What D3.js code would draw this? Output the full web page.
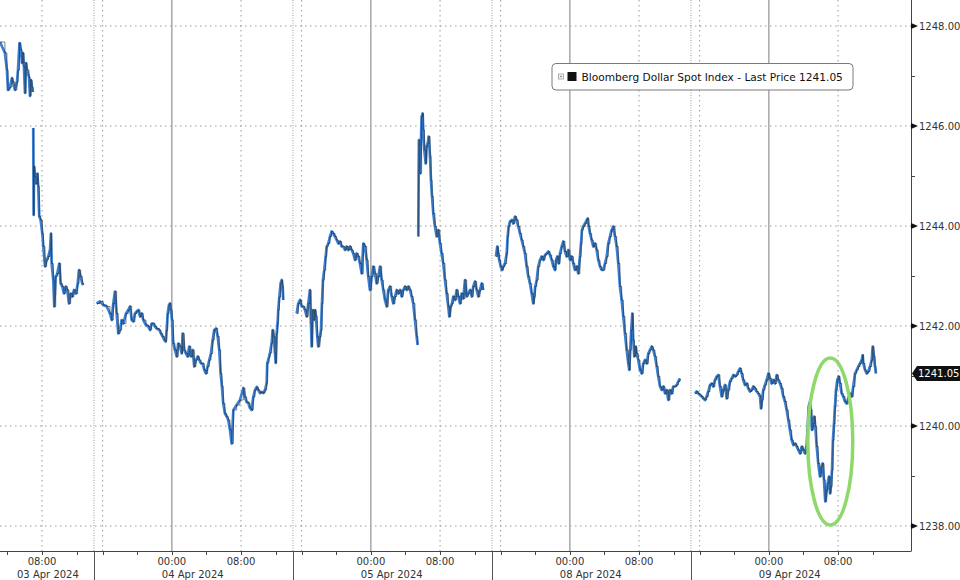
<!DOCTYPE html>
<html>
<head>
<meta charset="utf-8">
<script src="https://cdn.jsdelivr.net/npm/d3@7"></script>
<style>
  body { margin: 0; background: #fff; }
  svg { display: block; font-family: "DejaVu Sans", Verdana, sans-serif; }
</style>
</head>
<body>
<svg id="chart" width="960" height="580"></svg>
<script>
// sessions open 15:00 the day before and run 23 hours
// every point is [hours since session open, index level]
var sessionDays = ["03 Apr 2024", "04 Apr 2024", "05 Apr 2024", "08 Apr 2024", "09 Apr 2024"]
var sessionHours = 23
var openClock = 15
var priceTicks = [1238, 1240, 1242, 1244, 1246, 1248]
var priceMinor = [1239, 1241, 1243, 1245, 1247]
var lastPrice = 1241.05
var seriesName = "Bloomberg Dollar Spot Index - Last Price"
var ringHours = [13.5, 18.7]      // 09 Apr session, circled dip
var ringPrices = [1238.02, 1241.36]

var apr03a = [[12.14,1247.68],[12.71,1247.46],[12.94,1247.12],[13.06,1246.72],[13.29,1246.78],[13.52,1246.96],[13.64,1246.88],[13.87,1246.72],[14.10,1246.88],[14.22,1247.12],[14.39,1247.66],[14.56,1247.52],[14.68,1247.26],[14.79,1247.46],[14.91,1247.18],[15.03,1246.66],[15.14,1247.26],[15.26,1247.12],[15.49,1246.98],[15.61,1246.60],[15.72,1246.92],[15.84,1246.78],[15.95,1246.68]]

var apr03b = [[15.98,1245.96],[16.03,1244.22],[16.07,1245.19],[16.18,1244.99],[16.30,1244.85],[16.45,1245.05],[16.56,1244.79],[16.68,1244.19],[16.84,1244.12],[17.03,1243.85],[17.15,1243.59],[17.34,1243.19],[17.53,1243.32],[17.72,1243.39],[17.92,1243.52],[18.03,1243.85],[18.11,1243.25],[18.30,1242.92],[18.41,1242.39],[18.58,1242.99],[18.76,1243.05],[18.99,1243.25],[19.15,1242.85],[19.34,1242.79],[19.53,1242.65],[19.73,1242.79],[19.92,1242.72],[20.11,1242.45],[20.31,1242.65],[20.50,1242.59],[20.69,1242.72],[20.92,1242.65],[21.12,1242.85],[21.27,1243.12],[21.46,1242.99],[21.65,1242.85],[21.77,1242.82]]

var apr04 = [[0.31,1242.45],[0.69,1242.49],[1.08,1242.42],[1.47,1242.39],[1.85,1242.25],[2.05,1242.12],[2.23,1242.45],[2.43,1242.69],[2.62,1242.25],[2.81,1241.85],[3.01,1241.92],[3.20,1242.12],[3.39,1242.05],[3.70,1242.25],[3.96,1242.32],[4.16,1242.39],[4.36,1242.12],[4.54,1242.09],[4.74,1242.25],[4.94,1242.29],[5.12,1242.32],[5.32,1242.19],[5.51,1242.25],[5.70,1242.12],[6.01,1242.02],[6.28,1241.99],[6.47,1241.92],[6.67,1242.05],[6.85,1242.05],[7.05,1241.99],[7.25,1241.95],[7.55,1241.92],[7.74,1241.85],[7.94,1241.79],[8.13,1241.72],[8.29,1241.69],[8.40,1241.92],[8.52,1242.25],[8.67,1242.42],[8.78,1242.45],[8.90,1242.32],[9.02,1242.12],[9.17,1241.65],[9.36,1241.52],[9.56,1241.39],[9.74,1241.65],[9.94,1241.59],[10.14,1241.45],[10.25,1241.85],[10.44,1241.52],[10.63,1241.45],[10.83,1241.39],[11.01,1241.59],[11.21,1241.39],[11.41,1241.52],[11.59,1241.19],[11.79,1241.32],[11.99,1241.39],[12.17,1241.32],[12.37,1241.25],[12.56,1241.25],[12.75,1241.12],[12.94,1241.05],[13.14,1241.19],[13.33,1241.32],[13.52,1241.45],[13.72,1241.72],[13.90,1241.92],[14.10,1241.95],[14.30,1241.79],[14.48,1241.52],[14.64,1241.05],[14.79,1240.79],[14.94,1240.45],[15.14,1240.25],[15.34,1240.19],[15.52,1240.12],[15.72,1239.92],[15.92,1239.65],[16.11,1240.32],[16.49,1240.42],[16.87,1240.52],[17.26,1240.76],[17.45,1240.58],[17.65,1240.48],[17.84,1240.46],[18.03,1240.36],[18.23,1240.32],[18.41,1240.58],[18.61,1240.72],[18.81,1240.78],[18.99,1240.72],[19.19,1240.66],[19.38,1240.68],[19.57,1240.66],[19.77,1240.72],[19.96,1240.86],[20.03,1241.26],[20.23,1241.38],[20.34,1241.46],[20.54,1241.66],[20.65,1241.92],[20.80,1241.78],[20.92,1241.46],[21.00,1241.26],[21.12,1241.86],[21.23,1242.06],[21.30,1242.32],[21.42,1242.58],[21.58,1242.86],[21.70,1242.92],[21.81,1242.78],[21.88,1242.52]]

var apr05a = [[0.43,1242.25],[0.61,1242.45],[0.81,1242.52],[1.01,1242.39],[1.19,1242.39],[1.39,1242.32],[1.58,1242.19],[1.77,1242.45],[1.96,1242.72],[2.08,1242.05],[2.16,1241.59],[2.28,1242.32],[2.43,1242.12],[2.54,1242.32],[2.66,1242.19],[2.81,1241.79],[2.92,1241.59],[3.12,1241.79],[3.24,1241.92],[3.35,1242.45],[3.47,1242.92],[3.62,1243.12],[3.78,1243.39],[3.90,1243.59],[4.08,1243.65],[4.28,1243.79],[4.47,1243.89],[4.66,1243.85],[4.85,1243.79],[5.05,1243.72],[5.24,1243.65],[5.43,1243.69],[5.63,1243.59],[5.81,1243.59],[6.01,1243.52],[6.21,1243.59],[6.39,1243.52],[6.59,1243.59],[6.78,1243.52],[6.97,1243.45],[7.17,1243.32],[7.36,1243.45],[7.55,1243.39],[7.74,1243.25],[7.94,1243.05],[8.13,1243.65],[8.32,1243.59],[8.52,1243.32],[8.70,1242.99],[8.90,1242.72],[9.10,1242.99],[9.28,1243.19],[9.48,1243.05],[9.67,1242.85],[9.86,1242.99],[10.06,1243.19],[10.25,1242.92],[10.44,1242.72],[10.63,1242.52],[10.83,1242.39],[11.01,1242.72],[11.21,1242.79],[11.41,1242.59],[11.59,1242.45],[11.79,1242.59],[11.99,1242.72],[12.17,1242.65],[12.37,1242.72],[12.56,1242.59],[12.75,1242.72],[12.94,1242.79],[13.14,1242.72],[13.33,1242.79],[13.52,1242.72],[13.72,1242.59],[13.90,1242.45],[14.10,1242.12],[14.30,1241.79],[14.41,1241.62]]

var apr05b = [[14.48,1243.79],[14.53,1245.12],[14.56,1245.72],[14.68,1245.05],[14.87,1246.19],[14.99,1246.25],[15.06,1245.92],[15.18,1245.52],[15.34,1245.25],[15.45,1245.59],[15.57,1245.65],[15.69,1245.79],[15.84,1245.39],[15.95,1244.92],[16.07,1244.59],[16.22,1244.25],[16.41,1243.99],[16.61,1243.79],[16.79,1243.92],[16.99,1243.65],[17.18,1243.45],[17.37,1243.25],[17.57,1242.92],[17.76,1242.65],[17.95,1242.39],[18.07,1242.19],[18.23,1242.39],[18.38,1242.45],[18.53,1242.59],[18.73,1242.52],[18.92,1242.72],[19.11,1242.59],[19.30,1242.45],[19.50,1242.65],[19.69,1242.55],[19.88,1242.92],[20.08,1242.59],[20.26,1242.65],[20.46,1242.72],[20.66,1242.59],[20.84,1242.79],[21.04,1242.89],[21.23,1242.72],[21.42,1242.59],[21.61,1242.72],[21.81,1242.85],[22.00,1242.72]]

var apr08 = [[0.46,1243.39],[0.61,1243.59],[0.73,1243.45],[0.84,1243.32],[1.01,1243.19],[1.16,1243.12],[1.31,1243.19],[1.50,1243.25],[1.70,1243.45],[1.81,1243.79],[1.93,1243.99],[2.08,1244.09],[2.28,1244.12],[2.46,1244.05],[2.66,1244.19],[2.85,1244.12],[3.04,1243.99],[3.24,1243.85],[3.43,1243.72],[3.62,1243.59],[3.81,1243.45],[4.01,1243.19],[4.20,1242.99],[4.39,1242.85],[4.59,1242.65],[4.77,1242.45],[4.89,1242.59],[5.00,1242.79],[5.17,1242.92],[5.35,1243.19],[5.55,1243.32],[5.74,1243.39],[5.93,1243.32],[6.13,1243.42],[6.32,1243.45],[6.51,1243.49],[6.70,1243.42],[6.90,1243.32],[7.09,1243.19],[7.28,1243.12],[7.40,1243.32],[7.55,1243.39],[7.71,1243.25],[7.86,1243.45],[8.06,1243.59],[8.24,1243.69],[8.44,1243.49],[8.63,1243.39],[8.82,1243.52],[9.02,1243.32],[9.21,1243.39],[9.40,1243.25],[9.59,1243.12],[9.79,1243.19],[9.97,1243.05],[10.17,1243.39],[10.29,1243.65],[10.40,1243.92],[10.55,1243.99],[10.75,1244.05],[10.95,1244.12],[11.06,1244.15],[11.18,1243.99],[11.33,1243.85],[11.52,1243.72],[11.71,1243.59],[11.90,1243.65],[12.10,1243.52],[12.29,1243.32],[12.48,1243.19],[12.68,1243.12],[12.86,1243.12],[13.06,1243.25],[13.26,1243.39],[13.44,1243.65],[13.64,1243.79],[13.83,1243.92],[14.02,1243.99],[14.22,1243.79],[14.41,1243.59],[14.60,1243.25],[14.79,1242.79],[14.99,1242.52],[15.18,1242.19],[15.37,1241.85],[15.57,1241.52],[15.76,1241.25],[15.87,1241.12],[15.98,1241.52],[16.10,1241.92],[16.22,1242.25],[16.33,1241.72],[16.45,1241.39],[16.61,1241.59],[16.72,1241.45],[16.91,1241.32],[17.11,1241.12],[17.30,1241.05],[17.49,1241.25],[17.68,1241.32],[17.88,1241.25],[18.07,1241.45],[18.26,1241.52],[18.46,1241.59],[18.64,1241.52],[18.84,1241.39],[19.04,1241.19],[19.22,1240.99],[19.42,1240.79],[19.61,1240.72],[19.80,1240.79],[20.00,1240.65],[20.19,1240.72],[20.38,1240.52],[20.57,1240.72],[20.77,1240.65],[20.95,1240.79],[21.15,1240.79],[21.35,1240.82],[21.53,1240.89],[21.73,1240.95]]

var apr09 = [[0.46,1240.65],[0.66,1240.69],[0.84,1240.65],[1.04,1240.62],[1.24,1240.59],[1.42,1240.55],[1.62,1240.52],[1.81,1240.59],[2.00,1240.69],[2.20,1240.82],[2.39,1240.85],[2.58,1240.79],[2.77,1240.92],[2.97,1240.99],[3.16,1241.02],[3.35,1240.79],[3.55,1240.59],[3.73,1240.72],[3.93,1240.82],[4.13,1240.55],[4.31,1240.72],[4.51,1240.89],[4.70,1240.95],[4.89,1241.02],[5.09,1240.99],[5.28,1241.02],[5.47,1241.09],[5.66,1241.15],[5.86,1241.05],[6.04,1240.92],[6.24,1240.82],[6.44,1240.85],[6.62,1240.75],[6.82,1240.69],[7.02,1240.72],[7.20,1240.79],[7.40,1240.75],[7.59,1240.69],[7.78,1240.65],[7.98,1240.59],[8.09,1240.35],[8.21,1240.52],[8.36,1240.72],[8.55,1240.82],[8.75,1240.92],[8.94,1241.05],[9.13,1240.95],[9.33,1240.85],[9.51,1240.92],[9.71,1240.85],[9.91,1241.02],[10.09,1240.92],[10.29,1240.85],[10.49,1240.75],[10.67,1240.59],[10.86,1240.49],[11.06,1240.32],[11.25,1240.12],[11.44,1239.92],[11.64,1239.72],[11.83,1239.62],[12.02,1239.65],[12.22,1239.59],[12.40,1239.52],[12.60,1239.45],[12.80,1239.59],[12.98,1239.52],[13.18,1239.45],[13.37,1239.62],[13.49,1239.99],[13.60,1240.39],[13.75,1240.49],[13.87,1240.32],[13.98,1239.92],[14.13,1240.05],[14.25,1240.19],[14.37,1239.99],[14.53,1239.59],[14.71,1239.25],[14.91,1238.99],[15.11,1239.19],[15.22,1239.25],[15.37,1238.92],[15.52,1238.49],[15.69,1238.72],[15.80,1238.85],[15.95,1238.99],[16.07,1238.65],[16.18,1238.79],[16.30,1239.12],[16.41,1239.72],[16.53,1240.05],[16.64,1240.39],[16.76,1240.72],[16.91,1240.92],[17.07,1240.99],[17.22,1240.85],[17.42,1240.65],[17.60,1240.59],[17.80,1240.49],[18.00,1240.45],[18.18,1240.55],[18.38,1240.65],[18.58,1240.59],[18.76,1240.79],[18.96,1241.05],[19.15,1241.12],[19.34,1241.19],[19.53,1241.25],[19.73,1241.32],[19.85,1241.42],[19.92,1241.25],[20.11,1241.12],[20.31,1241.05],[20.49,1241.09],[20.69,1241.19],[20.89,1241.32],[21.00,1241.59],[21.15,1241.39],[21.27,1241.19],[21.38,1241.05]]

var segments = [[0, apr03a], [0, apr03b], [1, apr04], [2, apr05a], [2, apr05b], [3, apr08], [4, apr09]]

var plotRight = 911, plotBottom = 551, H = 580
var svg = d3.select('#chart')

var x = d3.scaleLinear().domain([12.14, 117.43]).range([0, plotRight])
var y = d3.scaleLinear().domain([1238, 1248]).range([526, 26])

function tOf(k, h) { return k * sessionHours + h }
function clock(h) { return d3.format("02")((openClock + h) % 24) + ":00" }

// ticks every 4 hours inside each session
var tickHours = [1, 5, 9, 13, 17, 21]
var xTicks = []
sessionDays.forEach(function(day, k) {
    tickHours.forEach(function(h) {
        var px = x(tOf(k, h))
        if (px >= 0 && px <= plotRight) xTicks.push({k: k, h: h, px: px})
    })
})
var bounds = d3.range(1, sessionDays.length).map(function(k) { return x(tOf(k, 0)) })

var grid = svg.append('g')
grid.selectAll('.hgrid').data(priceTicks).enter().append('line')
    .attr('x1', 0).attr('x2', plotRight)
    .attr('y1', function(d) { return y(d) }).attr('y2', function(d) { return y(d) })
    .attr('stroke', '#9a9a9a').attr('stroke-width', 1).attr('stroke-dasharray', '1.5,3.5')
grid.selectAll('.vgrid').data(xTicks.filter(function(d) { return d.h !== 5 && d.h !== 13 && d.h !== 21 })).enter().append('line')
    .attr('x1', function(d) { return d.px }).attr('x2', function(d) { return d.px })
    .attr('y1', 0).attr('y2', plotBottom)
    .attr('stroke', function(d) { return d.h === 9 ? '#a8a8a8' : '#9a9a9a' })
    .attr('stroke-width', function(d) { return d.h === 9 ? 1.5 : 1 })
    .attr('stroke-dasharray', function(d) { return d.h === 9 ? null : '1.5,3.5' })
grid.selectAll('.sep').data(bounds).enter().append('line')
    .attr('x1', function(d) { return d }).attr('x2', function(d) { return d })
    .attr('y1', 0).attr('y2', plotBottom)
    .attr('stroke', '#9a9a9a').attr('stroke-width', 1).attr('stroke-dasharray', '1,1.5')

svg.append('clipPath').attr('id', 'plotclip').append('rect')
    .attr('x', 0).attr('y', 0).attr('width', plotRight).attr('height', plotBottom)

var line = d3.line()
    .x(function(d) { return x(d.t) })
    .y(function(d) { return y(d.v) })
var stepLine = d3.line()
    .curve(d3.curveStepAfter)
    .x(function(d) { return x(d.t) })
    .y(function(d) { return y(d.v) })

var series = svg.append('g').attr('clip-path', 'url(#plotclip)')
var segData = segments.map(function(s) {
    return s[1].map(function(p) { return {t: tOf(s[0], p[0]), v: p[1]} })
})
series.selectAll('.blue').data(segData).enter().append('path')
    .attr('d', line)
    .attr('fill', 'none').attr('stroke', '#3b80d2').attr('stroke-width', 2.7)
    .attr('stroke-linejoin', 'round')
series.selectAll('.dark').data(segData).enter().append('path')
    .attr('d', stepLine)
    .attr('fill', 'none').attr('stroke', '#1d1d1d').attr('stroke-width', 1)
    .attr('stroke-opacity', 0.55)

// circled dip
var rx0 = x(tOf(4, ringHours[0])), rx1 = x(tOf(4, ringHours[1]))
svg.append('ellipse')
    .attr('cx', (rx0 + rx1) / 2).attr('cy', (y(ringPrices[0]) + y(ringPrices[1])) / 2)
    .attr('rx', (rx1 - rx0) / 2).attr('ry', (y(ringPrices[0]) - y(ringPrices[1])) / 2)
    .attr('fill', 'none').attr('stroke', '#8fd86a').attr('stroke-width', 3.5)

// axes
var axis = svg.append('g').attr('fill', '#333').style('font-size', '10px')
axis.append('line').attr('x1', plotRight + 0.5).attr('x2', plotRight + 0.5)
    .attr('y1', 0).attr('y2', plotBottom).attr('stroke', '#444')
axis.append('line').attr('x1', 0).attr('x2', plotRight + 0.5)
    .attr('y1', plotBottom + 0.5).attr('y2', plotBottom + 0.5).attr('stroke', '#444')

axis.selectAll('.ymin').data(priceMinor).enter().append('line')
    .attr('x1', plotRight).attr('x2', plotRight + 4)
    .attr('y1', function(d) { return Math.round(y(d)) + 0.5 }).attr('y2', function(d) { return Math.round(y(d)) + 0.5 })
    .attr('stroke', '#444')
axis.selectAll('.ytri').data(priceTicks).enter().append('path')
    .attr('d', function(d) {
        var yy = y(d)
        return 'M' + plotRight + ',' + (yy - 3) + 'L' + (plotRight + 7) + ',' + yy + 'L' + plotRight + ',' + (yy + 3) + 'Z'
    })
    .attr('fill', '#111')
axis.selectAll('.ylab').data(priceTicks).enter().append('text')
    .attr('x', plotRight + 8).attr('y', function(d) { return y(d) }).attr('dy', '0.35em')
    .text(function(d) { return d3.format('.2f')(d) })

// last price tag
var ly = y(lastPrice)
axis.append('path')
    .attr('d', 'M' + (plotRight + 1) + ',' + ly + 'L' + (plotRight + 6) + ',' + (ly - 7.5) + 'L960,' + (ly - 7.5) + 'L960,' + (ly + 7.5) + 'L' + (plotRight + 6) + ',' + (ly + 7.5) + 'Z')
    .attr('fill', '#111')
axis.append('text').attr('x', plotRight + 7).attr('y', ly).attr('dy', '0.35em')
    .attr('fill', '#fff').text(d3.format('.2f')(lastPrice))

axis.selectAll('.xtick').data(xTicks).enter().append('line')
    .attr('x1', function(d) { return Math.round(d.px) + 0.5 }).attr('x2', function(d) { return Math.round(d.px) + 0.5 })
    .attr('y1', plotBottom).attr('y2', plotBottom + 4).attr('stroke', '#444')
axis.selectAll('.xlab').data(xTicks.filter(function(d) { return d.h === 9 || d.h === 17 })).enter().append('text')
    .attr('x', function(d) { return d.px }).attr('y', plotBottom + 14)
    .attr('text-anchor', 'middle')
    .text(function(d) { return clock(d.h) })
axis.selectAll('.dlab').data(sessionDays).enter().append('text')
    .attr('x', function(d, k) { return Math.max(17, x(tOf(k, 9)) - 10) }).attr('y', plotBottom + 27)
    .text(function(d) { return d })
axis.selectAll('.dsep').data(bounds).enter().append('line')
    .attr('x1', function(d) { return Math.round(d) + 0.5 }).attr('x2', function(d) { return Math.round(d) + 0.5 })
    .attr('y1', plotBottom).attr('y2', H).attr('stroke', '#555')

// legend
var lg = svg.append('g').attr('transform', 'translate(552,63.5)')
lg.append('rect').attr('width', 301).attr('height', 26.5).attr('rx', 4)
    .attr('fill', '#fff').attr('stroke', '#7a7a7a')
lg.append('rect').attr('x', 6.5).attr('y', 10.5).attr('width', 5).attr('height', 5)
    .attr('fill', 'none').attr('stroke', '#999').attr('stroke-width', 0.8)
lg.append('path').attr('d', 'M9,11.5V14.5M7.5,13H10.5').attr('stroke', '#999').attr('stroke-width', 0.8)
lg.append('rect').attr('x', 15.5).attr('y', 8.5).attr('width', 9).attr('height', 9).attr('fill', '#111')
lg.append('text').attr('x', 29.5).attr('y', 13.5).attr('dy', '0.35em')
    .attr('fill', '#111').style('font-size', '10.6px')
    .text(seriesName + ' ' + d3.format('.2f')(lastPrice))
</script>
</body>
</html>
